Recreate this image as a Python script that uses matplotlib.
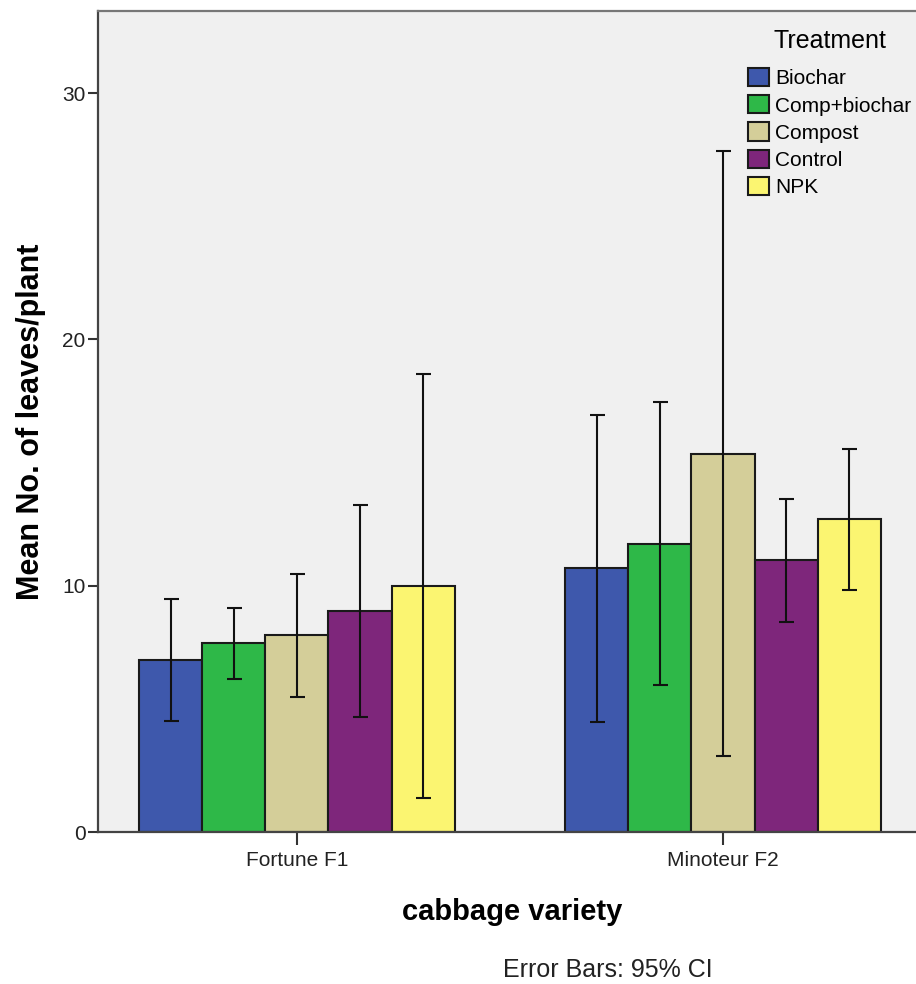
import matplotlib
matplotlib.use("Agg")
import matplotlib.pyplot as plt
import numpy as np

plt.rcParams['font.family'] = ['Liberation Sans', 'DejaVu Sans']

varieties = ["Fortune F1", "Minoteur F2"]
treatments = ["Biochar", "Comp+biochar", "Compost", "Control", "NPK"]
colors = ["#3E58AC", "#2EB848", "#D4CE99", "#7E267B", "#FBF571"]

# mean values per treatment: [Fortune F1, Minoteur F2]
means = {
    "Biochar":      [7.0, 10.7],
    "Comp+biochar": [7.67, 11.7],
    "Compost":      [8.0, 15.36],
    "Control":      [8.98, 11.06],
    "NPK":          [10.0, 12.69],
}
ci_low = {
    "Biochar":      [4.51, 4.45],
    "Comp+biochar": [6.22, 5.96],
    "Compost":      [5.49, 3.07],
    "Control":      [4.67, 8.54],
    "NPK":          [1.39, 9.82],
}
ci_high = {
    "Biochar":      [9.47, 16.94],
    "Comp+biochar": [9.09, 17.44],
    "Compost":      [10.48, 27.64],
    "Control":      [13.29, 13.5],
    "NPK":          [18.6, 15.56],
}
yticks = [0, 10, 20, 30]

W, H = 916, 984
fig = plt.figure(figsize=(W / 100, H / 100), dpi=100)
fig.patch.set_facecolor("white")
ax = fig.add_axes([98 / W, (H - 832) / H, (916 - 98) / W, (832 - 11) / H])
ax.set_facecolor("#F0F0F0")

x = np.arange(len(varieties))
bw = 0.148
for i, t in enumerate(treatments):
    pos = x + (i - 2) * bw
    m = np.array(means[t])
    lo = m - np.array(ci_low[t])
    hi = np.array(ci_high[t]) - m
    ax.bar(pos, m, width=bw, color=colors[i], edgecolor="#1a1a1a",
           linewidth=1.5, label=t, zorder=2)
    ax.errorbar(pos, m, yerr=[lo, hi], fmt="none", ecolor="#111111",
                elinewidth=1.5, capsize=5.4, capthick=1.5, zorder=3)

ax.set_xlim(-0.467, 1.453)
ax.set_ylim(0, 33.33)
ax.set_yticks(yticks)
ax.set_xticks(x)
ax.set_xticklabels(varieties)
ax.tick_params(axis="y", direction="out", length=7, width=1.5,
               colors="#333333", labelsize=15, pad=2)
ax.tick_params(axis="x", direction="out", length=9, width=1.5,
               colors="#333333", labelsize=15, pad=5)
for lab in ax.get_xticklabels() + ax.get_yticklabels():
    lab.set_color("#222222")

for s in ["left", "bottom"]:
    ax.spines[s].set_color("#444444")
    ax.spines[s].set_linewidth(1.6)
ax.spines["top"].set_color("#777777")
ax.spines["top"].set_linewidth(1.6)
ax.spines["right"].set_visible(False)

ax.set_ylabel("Mean No. of leaves/plant", fontsize=22, fontweight="bold")
ax.yaxis.set_label_coords((46 - 98) / 818, 0.5)
ax.set_xlabel("cabbage variety", fontsize=21, fontweight="bold")
ax.xaxis.set_label_coords((512 - 98) / 818, (832 - 898) / 821)

fig.text(608 / W, 1 - 970 / H, "Error Bars: 95% CI", fontsize=18,
         ha="center", va="center", color="#222222")

leg = ax.legend(title="Treatment", loc="upper left",
                bbox_to_anchor=(748 / W, 1 - 29 / H),
                bbox_transform=fig.transFigure, frameon=False,
                fontsize=15, title_fontsize=18, borderpad=0,
                handlelength=1.0, handleheight=0.96, handletextpad=0.3,
                labelspacing=0.33, borderaxespad=0)
leg._legend_box.sep = 11

fig.savefig("out.png", dpi=100, facecolor="white")
